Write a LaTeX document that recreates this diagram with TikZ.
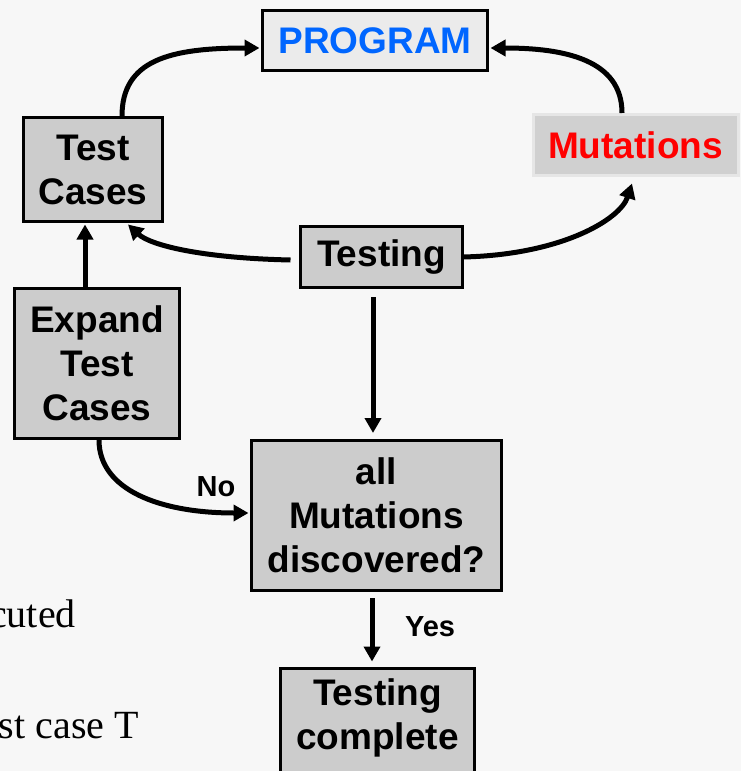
\documentclass[tikz,border=0pt]{standalone}
\usepackage{fontspec}
\setmainfont{Liberation Sans}
\newfontfamily\slideserif{Liberation Serif}
\usetikzlibrary{arrows.meta,calc}

\definecolor{pagebg}{HTML}{F7F7F7}
\definecolor{boxgray}{HTML}{CCCCCC}
\definecolor{progfill}{HTML}{EBEBEB}
\definecolor{progblue}{HTML}{0066FF}
\definecolor{mutred}{HTML}{FF0000}
\definecolor{mutfill}{HTML}{D0D0D0}
\definecolor{mutedge}{HTML}{E6E6E6}

\begin{document}
\begin{tikzpicture}[x=1pt,y=-1pt,
  box/.style={draw=black, line width=3pt, fill=boxgray, align=center,
    inner sep=0pt, font=\bfseries\fontsize{37}{44}\selectfont},
  flow/.style={line width=5pt, -{Triangle[length=15pt,width=16pt]}},
  lbl/.style={font=\bfseries\fontsize{29}{32}\selectfont, inner sep=0pt},
  bgtext/.style={font=\slideserif\fontsize{40}{44}\selectfont, anchor=base east, inner sep=0pt}]

  % page area and background
  \clip (0,0) rectangle (741,771);
  \fill[pagebg] (0,0) rectangle (741,771);

  % text of the slide behind the chart
  \node[bgtext] (bgA) at (76,627) {cuted};
  \node[bgtext] (bgB) at (139,738) {st case T};

  % boxes
  \node[box, fill=progfill, text=progblue, minimum width=225, minimum height=60] (prog) at (375,40.5) {PROGRAM};
  \node[box, minimum width=139, minimum height=104] (tc) at (93,169.5) {Test\\Cases};
  \node[box, draw=mutedge, fill=mutfill, text=mutred, minimum width=205, minimum height=61] (mut) at (635.5,145) {Mutations};
  \node[box, minimum width=162, minimum height=61] (testing) at (381.5,257) {Testing};
  \node[box, minimum width=165, minimum height=150] (exp) at (97,363.5) {Expand\\Test\\Cases};
  \node[box, minimum width=250, minimum height=150] (all) at (376.5,515.5) {all\\Mutations\\discovered?};
  \node[box, minimum width=194, minimum height=150, anchor=north] (donebox) at (377.5,666.5) {};
  \node[box, draw=none, fill=none] (donetxt) at (377.5,718) {Testing\\complete};

  % connectors of the cycle
  \draw[flow] ($(tc.north)+(29,0)$) .. controls (122,60) and (170,48) .. ($(prog.west)+(-1.5,7.5)$);
  \draw[flow] ($(mut.north)+(-13.5,0)$) .. controls (622,60) and (565,48) .. ($(prog.east)+(1.5,7.5)$);
  \draw[flow] ($(testing.west)+(-8.5,3)$) .. controls (200,258) and (150,245) .. ($(tc.south)+(35,1.5)$);
  \draw[flow] ($(testing.east)+(-1.5,0)$) .. controls (560,255) and (620,220) .. ($(mut.south)+(-3.5,6.5)$);

  % straight connectors
  \draw[flow] ($(exp.north)+(-12,0)$) -- ($(tc.south)+(-8,1.5)$);
  \draw[flow] ($(testing.south)+(-8.5,8)$) -- ($(all.north)+(-3.5,-6)$);
  \draw[flow] ($(all.south)+(-4.5,6)$) -- ($(donebox.north)+(-5.5,-5)$);

  % loop back
  \draw[flow] ($(exp.south)+(2,0)$) .. controls (99,490) and (160,513) .. ($(all.west)+(-1.5,-2.5)$);

  % branch labels
  \node[lbl] (no) at (216,487) {No};
  \node[lbl] (yes) at (430,627) {Yes};
\end{tikzpicture}
\end{document}
